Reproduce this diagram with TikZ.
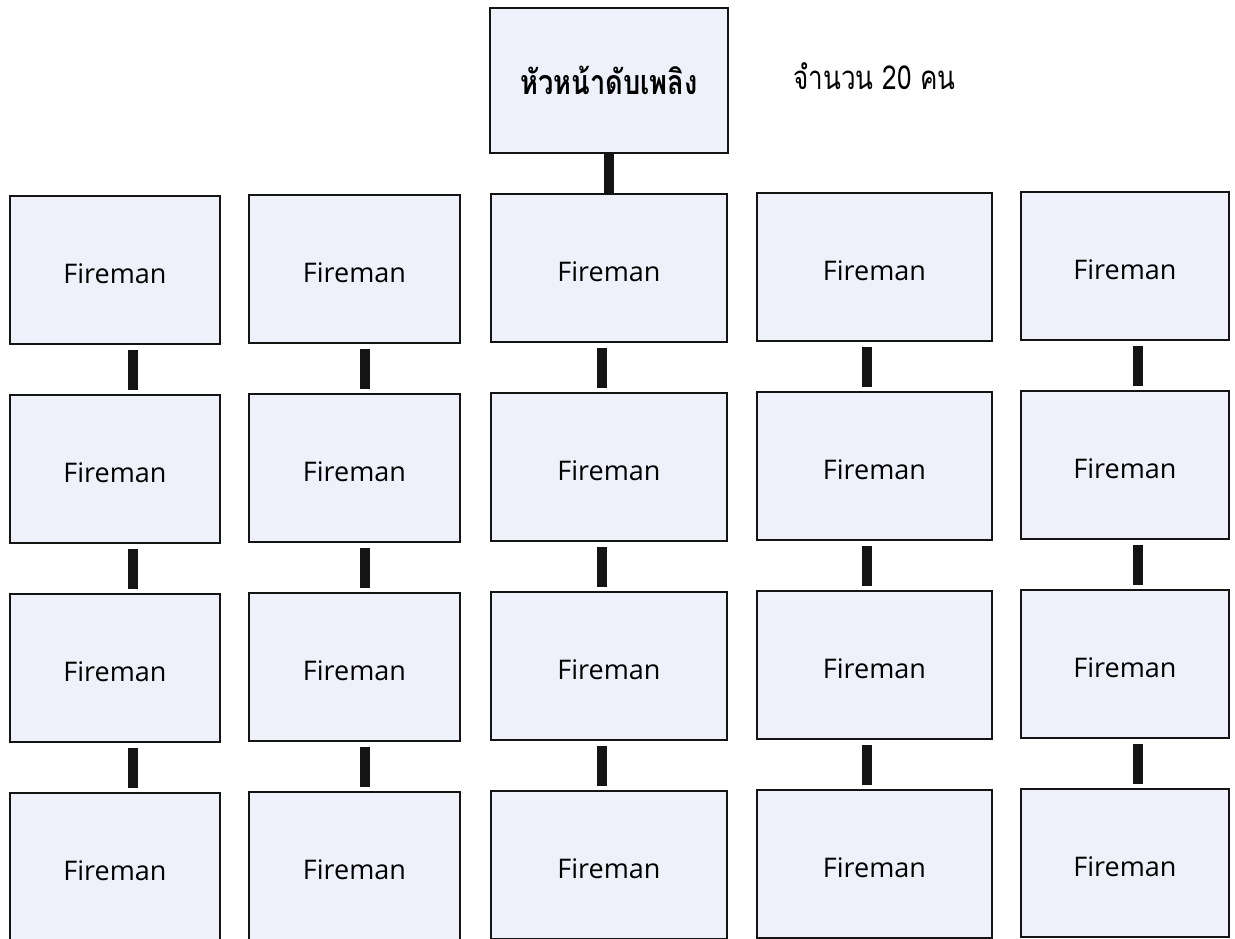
\documentclass[tikz,border=0pt]{standalone}
\usepackage{fontspec}
\setmainfont{Open Sans}
\newfontfamily\thaifont[Script=Thai,FakeStretch=0.8]{Loma}
\newfontfamily\thaicount[Script=Thai,FakeStretch=0.79]{Loma}
\usepackage{tikz}
\usetikzlibrary{positioning}
\usepackage{xcolor}
\definecolor{fireblack}{HTML}{141414}
\definecolor{firefill}{HTML}{EEF1FA}

\begin{document}
\begin{tikzpicture}[x=1pt,y=-1pt,
          fbox/.style={draw=fireblack,line width=2pt,fill=firefill,outer sep=0pt,inner sep=0pt,
                       minimum height=148pt,text height=27pt,font=\fontsize{27}{30}\selectfont},
          link/.style={draw=fireblack,line width=10pt}]
        \useasboundingbox (0,0) rectangle (1235,939);
        \node[fbox,minimum width=238pt,minimum height=145pt,text height=,
              font=\thaifont\bfseries\fontsize{34}{36}\selectfont] (chief) at (609,80.5) {หัวหน้าดับเพลิง};
        \node[anchor=west,font=\thaicount\fontsize{33}{35}\selectfont] (count) at (790,76) {จำนวน 20 คน};
        % five columns of four firemen
        \foreach \c/\x/\w/\t/\d in {1/115/210/196/18, 2/354.5/211/195/10, 3/609/236/194/-7,
                                    4/874.5/235/193/-8, 5/1125/208/192/13}{
          \node[fbox,minimum width=\w pt] (f\c1) at (\x,\t+74) {Fireman};
          \node[fbox,minimum width=\w pt,below=51pt of f\c1] (f\c2) {Fireman};
          \node[fbox,minimum width=\w pt,below=51pt of f\c2] (f\c3) {Fireman};
          \node[fbox,minimum width=\w pt,below=51pt of f\c3] (f\c4) {Fireman};
          \foreach \r/\s in {1/2,2/3,3/4}
            \draw[link,shorten <=6pt,shorten >=5pt] ([xshift=\d pt]f\c\r.south) -- ([xshift=\d pt]f\c\s.north);
        }
        \draw[link] (chief.south) -- (f31.north);
      \end{tikzpicture}
\end{document}
